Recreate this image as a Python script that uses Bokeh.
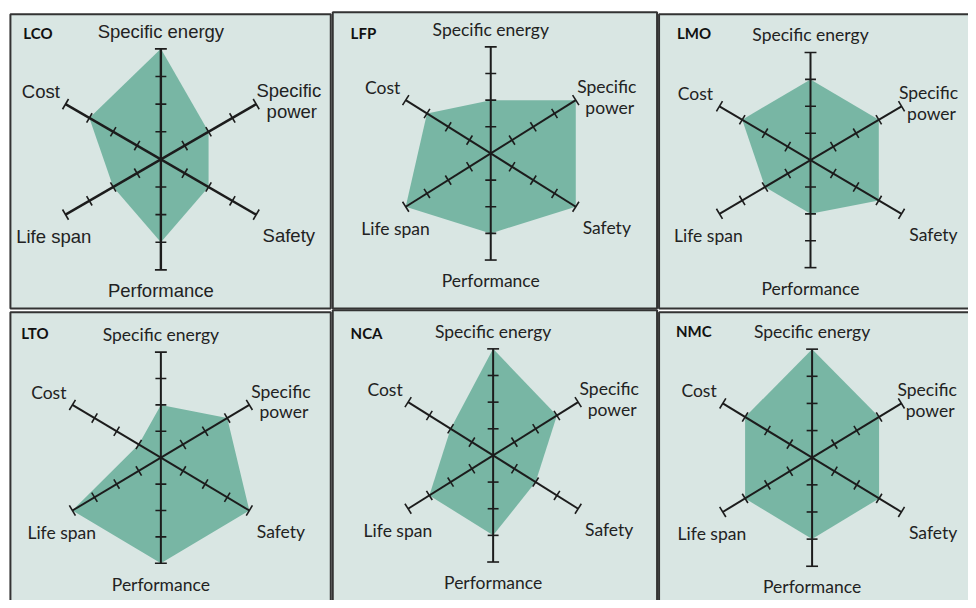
import math
from bokeh.plotting import figure
from bokeh.models import Range1d
from bokeh.core.properties import value
from bokeh.embed import file_html
from bokeh.resources import INLINE

# ---------------- data ----------------
axis_labels = ["Specific energy", "Specific power", "Safety", "Performance", "Life span", "Cost"]
chemistries = ["LCO", "LFP", "LMO", "LTO", "NCA", "NMC"]
lco = [4, 2, 2, 3, 2, 3]
lfp = [2, 4, 4, 3, 4, 3]
lmo = [3, 3, 3, 2, 2, 3]
lto = [2, 3, 4, 4, 4, 1]
nca = [4, 3, 2, 3, 3, 2]
nmc = [4, 3, 3, 3, 3, 3]
series = [lco, lfp, lmo, lto, nca, nmc]
scale_max = 4
tick_values = [1, 2, 3]

# ---------------- layout (reference pixel coords) ----------------
boxes = [(10, 14, 333, 312), (335, 12, 662, 312), (664, 14, 990, 312),
         (10, 316, 333, 620), (335, 314, 662, 620), (664, 316, 990, 620)]
centers = [(161.7, 161), (494.3, 155), (816.7, 161.7),
           (161.7, 463.3), (496.7, 461), (818.3, 463.3)]
radii = [(111, 112), (99, 108), (106, 109), (103, 107), (99, 108), (104, 110)]
title_pos = [(23, 33), (353, 33), (682, 33), (21, 336.5), (353, 336.5), (681, 335)]
power_dx = [18, 18, 13, 18, 18, 12]
fonts = ["Liberation Sans", "Lato", "Lato", "Lato", "Lato", "Lato"]
font_sizes = ["18.5px", "17.5px", "17.5px", "17.5px", "17.5px", "17.5px"]
angles = [90, 30, -30, -90, -150, 150]

BG = "#d9e6e3"
FILL = "#78b6a4"
INK = "#1c1c1c"

p = figure(width=968, height=600, output_backend="svg", toolbar_location=None,
           x_range=Range1d(0, 976), y_range=Range1d(608, 0), min_border=0)
p.axis.visible = False
p.grid.visible = False
p.outline_line_color = None
p.background_fill_color = "white"
p.border_fill_color = "white"

for i, vals in enumerate(series):
    x0, y0, x1, y1 = boxes[i]
    cx, cy = centers[i]
    rx, ry = radii[i]
    p.quad(left=[x0], right=[x1], top=[y0], bottom=[y1], fill_color=BG,
           line_color="#333333", line_width=2)

    def pt(v, a):
        r = math.radians(a)
        return cx + rx * v / scale_max * math.cos(r), cy - ry * v / scale_max * math.sin(r)

    # polygon
    xs, ys = [], []
    for v, a in zip(vals, angles):
        x, y = pt(v, a)
        xs.append(x); ys.append(y)
    p.patch(xs, ys, fill_color=FILL, line_color=None)

    # axes
    ax0, ay0, ax1, ay1 = [], [], [], []
    tx0, ty0, tx1, ty1 = [], [], [], []
    for a in angles:
        ex, ey = pt(scale_max, a)
        ax0.append(cx); ay0.append(cy); ax1.append(ex); ay1.append(ey)
        dx, dy = ex - cx, ey - cy
        L = math.hypot(dx, dy)
        nx, ny = -dy / L, dx / L
        for t in tick_values + [scale_max]:
            hx, hy = pt(t, a)
            h = 5.5 if t != scale_max else 6
            tx0.append(hx - nx * h); ty0.append(hy - ny * h)
            tx1.append(hx + nx * h); ty1.append(hy + ny * h)
    lw = 2.4 if i == 0 else 2
    p.segment(ax0, ay0, ax1, ay1, line_color=INK, line_width=lw)
    p.segment(tx0, ty0, tx1, ty1, line_color=INK, line_width=1.6)

    # labels
    f = fonts[i]
    fs = font_sizes[i]
    pdx = power_dx[i]
    lx = [cx, cx + rx + pdx, cx + rx + pdx + 3, cx + rx + 18, cx, cx - (rx - 3), cx - (rx + 10)]
    ly = [cy - (ry + 18), cy - (0.5 * ry + 14), cy - (0.5 * ry - 7), cy + 0.5 * ry + 21,
          cy + ry + 21, cy + 0.5 * ry + 22, cy - (0.5 * ry + 13)]
    lt = [axis_labels[0], "Specific", "power", axis_labels[2], axis_labels[3],
          axis_labels[4], axis_labels[5]]
    p.text(lx, ly, text=lt, text_align="center", text_baseline="middle",
           text_font=value(f), text_font_size=fs, text_color="#222222")

    tx, ty = title_pos[i]
    p.text([tx], [ty], text=[chemistries[i]], text_align="left", text_baseline="middle",
           text_font=value("Lato"), text_font_size="15px", text_font_style="bold",
           text_color="#111111")

open("out.html", "w").write(file_html(p, INLINE))
